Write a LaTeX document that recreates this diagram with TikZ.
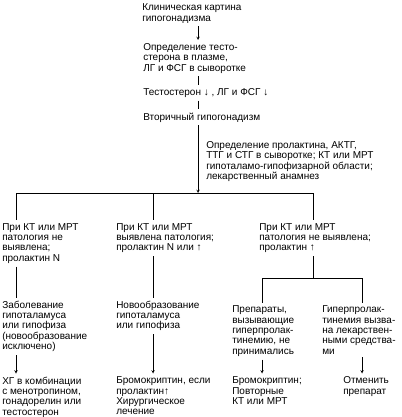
\documentclass[tikz,border=0pt]{standalone}
\usepackage{fontspec}
\setmainfont{Liberation Sans}

\begin{document}
\begin{tikzpicture}[x=1pt, y=-1pt, >=stealth, line width=0.5pt,
  txt/.style={anchor=north west, align=left, inner xsep=0pt, inner ysep=3pt,
    font=\fontsize{10}{10.4}\selectfont}]
\useasboundingbox (0,0) rectangle (401,417);
% main column
\node[txt] (klin) at (142,0.5) {Клиническая картина\\гипогонадизма};
\node[txt] (opred) at (143,40) {Определение тесто-\\стерона в плазме,\\ЛГ и ФСГ в сыворотке};
\node[txt] (testo) at (143,85) {Тестостерон ↓ , ЛГ и ФСГ ↓};
\node[txt] (vtor) at (143,109.5) {Вторичный гипогонадизм};
\node[txt] (issl) at (206,138) {Определение пролактина, АКТГ,\\ТТГ и СТГ в сыворотке; КТ или МРТ\\гипоталамо-гипофизарной области;\\лекарственный анамнез};
% three branches
\node[txt] (br1) at (2,220) {При КТ или МРТ\\патология не\\выявлена;\\пролактин N};
\node[txt] (br2) at (116,220) {При КТ или МРТ\\выявлена патология;\\пролактин N или ↑};
\node[txt] (br3) at (259,220) {При КТ или МРТ\\патология не выявлена;\\пролактин ↑};
\node[txt] (zabol) at (2,297.5) {Заболевание\\гипоталамуса\\или гипофиза\\(новообразование\\исключено)};
\node[txt] (novo) at (116,297.5) {Новообразование\\гипоталамуса\\или гипофиза};
\node[txt] (prep) at (232,302.5) {Препараты,\\вызывающие\\гиперпролак-\\тинемию, не\\принимались};
\node[txt] (giper) at (322,302.5) {Гиперпролак-\\тинемия вызва-\\на лекарствен-\\ными средства-\\ми};
\node[txt] (hg) at (2,373.5) {ХГ в комбинации\\с менотропином,\\гонадорелин или\\тестостерон};
\node[txt] (bromo) at (116,373.5) {Бромокриптин, если\\пролактин↑\\Хирургическое\\лечение};
\node[txt] (bromokt) at (232,373.5) {Бромокриптин;\\Повторные\\КТ или МРТ};
\node[txt] (otmen) at (343,373.5) {Отменить\\препарат};
% junctions
\coordinate (split) at (198,193);
\coordinate (s1) at (16,193);
\coordinate (s2) at (153,193);
\coordinate (s3) at (313,193);
\coordinate (fork) at (313,278);
\coordinate (f1) at (262,278);
\coordinate (f2) at (362,278);
% connectors
\draw[->] (klin.south -| split) -- (opred.north -| split);
\draw (opred.south -| split) -- (testo.north -| split);
\draw (testo.south -| split) -- (vtor.north -| split);
\draw[->] (vtor.south -| split) -- (split);
\draw (s1) -- (s3);
\foreach \s/\b in {s1/br1, s2/br2, s3/br3} {
  \draw (\s) -- (\b.north -| \s);
}
\draw (br1.south -| s1) -- (zabol.north -| s1);
\draw (br2.south -| s2) -- (novo.north -| s2);
\draw (br3.south -| fork) -- (fork);
\draw (f1) -- (f2);
\draw (f1) -- (prep.north -| f1);
\draw (f2) -- (giper.north -| f2);
\draw[->] (zabol.south -| s1) -- (hg.north -| s1);
\draw[->] (novo.south -| s2) -- (bromo.north -| s2);
\draw[->] (prep.south -| f1) -- (bromokt.north -| f1);
\draw[->] (giper.south -| f2) -- (otmen.north -| f2);
\end{tikzpicture}
\end{document}
